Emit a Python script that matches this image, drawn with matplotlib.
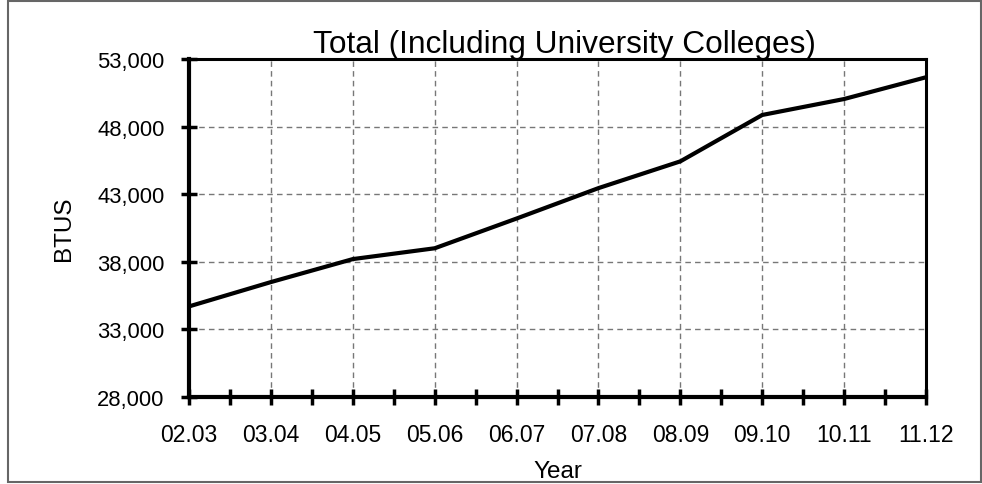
import matplotlib
matplotlib.use('Agg')
from matplotlib import pyplot as plt
from matplotlib.patches import Rectangle
from matplotlib.ticker import FixedLocator, FuncFormatter, MultipleLocator

years = ['02.03', '03.04', '04.05', '05.06', '06.07', '07.08', '08.09', '09.10', '10.11', '11.12']
btus = [34700, 36500, 38200, 39000, 41200, 43450, 45430, 48860, 50040, 51650]
y_ticks = [28000, 33000, 38000, 43000, 48000, 53000]

plt.rcParams['font.family'] = ['Liberation Sans', 'DejaVu Sans']


def main():
    fig = plt.figure(figsize=(9.82, 4.85), dpi=100)
    ax = fig.add_axes([0.1925, 0.1794, 0.7505, 0.6969])

    x = list(range(len(years)))
    ax.plot(x, btus, color='black', linewidth=3, solid_joinstyle='miter')

    ax.set_xlim(0, len(years) - 1)
    ax.set_ylim(y_ticks[0], y_ticks[-1])
    ax.set_xticks(x)
    ax.set_xticklabels(years)
    ax.xaxis.set_minor_locator(MultipleLocator(0.5))
    ax.yaxis.set_major_locator(FixedLocator(y_ticks))
    ax.yaxis.set_major_formatter(FuncFormatter(lambda v, p: f'{int(v):,}'))

    ax.grid(True, which='major', linestyle=(0, (4, 3)), color='#777777', linewidth=1)
    for s in ['left', 'bottom']:
        ax.spines[s].set_linewidth(3)
    for s in ['top', 'right']:
        ax.spines[s].set_linewidth(2.2)

    ax.tick_params(axis='both', which='major', direction='inout', length=11, width=2.5)
    ax.tick_params(axis='x', which='minor', direction='inout', length=11, width=2.5)
    ax.tick_params(axis='x', which='major', labelsize=16.5, pad=13)
    ax.tick_params(axis='y', which='major', labelsize=15.8, pad=12)

    ax.set_title('Total (Including University Colleges)', fontsize=22.8, pad=2, x=0.51)
    ax.set_xlabel('Year', fontsize=17.5, labelpad=10)
    ax.set_ylabel('BTUS', fontsize=17.5, labelpad=16)

    fig.patches.append(Rectangle((8 / 982, 2 / 485), 973 / 982, 481 / 485, transform=fig.transFigure,
                                 fill=False, edgecolor='#666666', linewidth=1.5))

    plt.savefig('out.png', dpi=100)


if __name__ == '__main__':
    main()
